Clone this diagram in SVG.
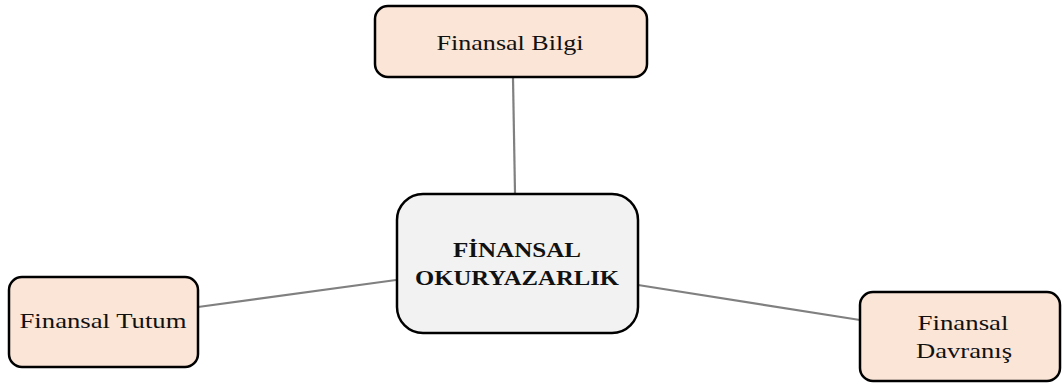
<svg xmlns="http://www.w3.org/2000/svg" width="1062" height="383" viewBox="0 0 1062 383">
<style>
.leaf{fill:#FBE5D6;stroke:#000;stroke-width:2.5}
.core{fill:#F2F2F2;stroke:#000;stroke-width:2.5}
.t{font-family:"Liberation Serif","DejaVu Serif",serif;font-size:22px;fill:#111;text-anchor:middle}
.b{font-weight:bold;font-size:22px}
.c{stroke:#808080;stroke-width:2.2;fill:none}
</style>
<rect width="1062" height="383" fill="#fff"/>
<g id="connectors">
<line class="c" x1="513" y1="78" x2="515" y2="193"/>
<line class="c" x1="198" y1="307" x2="396" y2="280"/>
<line class="c" x1="638" y1="285" x2="860" y2="320"/>
</g>
<g id="node-bilgi">
<rect class="leaf" x="375" y="6" width="272" height="71" rx="13"/>
<text class="t" x="510" y="50" textLength="147" lengthAdjust="spacingAndGlyphs">Finansal Bilgi</text>
</g>
<g id="node-center">
<rect class="core" x="397" y="194" width="241" height="139" rx="26"/>
<text class="t b" x="517" y="257" textLength="128" lengthAdjust="spacingAndGlyphs">FİNANSAL</text>
<text class="t b" x="517" y="285" textLength="204" lengthAdjust="spacingAndGlyphs">OKURYAZARLIK</text>
</g>
<g id="node-tutum">
<rect class="leaf" x="9" y="277" width="189" height="90" rx="13"/>
<text class="t" x="103" y="328" textLength="167" lengthAdjust="spacingAndGlyphs">Finansal Tutum</text>
</g>
<g id="node-davranis">
<rect class="leaf" x="860" y="292" width="200" height="89" rx="13"/>
<text class="t" x="963" y="330" textLength="91" lengthAdjust="spacingAndGlyphs">Finansal</text>
<text class="t" x="964" y="358" textLength="96" lengthAdjust="spacingAndGlyphs">Davranış</text>
</g>
</svg>
